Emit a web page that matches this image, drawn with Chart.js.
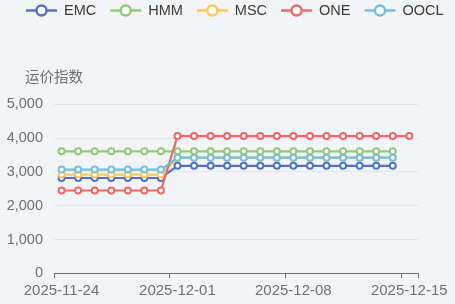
<!DOCTYPE html>
<html>
<head>
<meta charset="utf-8">
<script src="https://cdn.jsdelivr.net/npm/chart.js@4.4.0/dist/chart.umd.min.js"></script>
<style>
  html, body { margin: 0; padding: 0; background: #f3f4f6; }
</style>
</head>
<body>
<canvas id="chart" width="455" height="304"></canvas>
<script>
// data
const dates = ['2025-11-24', '2025-11-25', '2025-11-26', '2025-11-27', '2025-11-28', '2025-11-29', '2025-11-30',
               '2025-12-01', '2025-12-02', '2025-12-03', '2025-12-04', '2025-12-05', '2025-12-06', '2025-12-07',
               '2025-12-08', '2025-12-09', '2025-12-10', '2025-12-11', '2025-12-12', '2025-12-13', '2025-12-14',
               '2025-12-15'];
const seriesNames = ['EMC', 'HMM', 'MSC', 'ONE', 'OOCL'];
const emc  = [2820, 2820, 2820, 2820, 2820, 2820, 2820, 3180, 3180, 3180, 3180, 3180, 3180, 3180, 3180, 3180, 3180, 3180, 3180, 3180, 3180];
const hmm  = [3610, 3610, 3610, 3610, 3610, 3610, 3610, 3610, 3610, 3610, 3610, 3610, 3610, 3610, 3610, 3610, 3610, 3610, 3610, 3610, 3610];
const msc  = [2920, 2920, 2920, 2920, 2920, 2920, 2920, 3420, 3420, 3420, 3420, 3420, 3420, 3420, 3420, 3420, 3420, 3420, 3420, 3420, 3420];
const one  = [2450, 2450, 2450, 2450, 2450, 2450, 2450, 4060, 4060, 4060, 4060, 4060, 4060, 4060, 4060, 4060, 4060, 4060, 4060, 4060, 4060, 4060];
const oocl = [3070, 3070, 3070, 3070, 3070, 3070, 3070, 3420, 3420, 3420, 3420, 3420, 3420, 3420, 3420, 3420, 3420, 3420, 3420, 3420, 3420];
const xTickDates = ['2025-11-24', '2025-12-01', '2025-12-08', '2025-12-15'];
const xAxisEnd = '2025-12-16';
const yTicks = [0, 1000, 2000, 3000, 4000, 5000];
const yAxisName = '运价指数';
const sampleHour = 11;

const colors = ['#5470c6', '#91cc75', '#fac858', '#ee6666', '#73c0de'];
const FONT = '"Liberation Sans", Arial, "Noto Sans CJK SC", sans-serif';
const DAY = 86400000;

function toUTC(s) {
  const p = s.split('-').map(Number);
  return Date.UTC(p[0], p[1] - 1, p[2]);
}
const t0 = toUTC(dates[0]);
const dayOf = s => (toUTC(s) - t0) / DAY;
const fmt = v => new Date(t0 + v * DAY).toISOString().slice(0, 10);

const allSeries = [emc, hmm, msc, one, oocl];
const datasets = allSeries.map((vals, i) => ({
  label: seriesNames[i],
  data: vals.map((v, j) => ({ x: dayOf(dates[j]) + sampleHour / 24, y: v })),
  borderColor: colors[i],
  backgroundColor: colors[i],
  borderWidth: 2.2,
  pointRadius: 3,
  pointBorderWidth: 2,
  pointBackgroundColor: '#ffffff',
  pointBorderColor: colors[i],
  tension: 0,
  order: allSeries.length - 1 - i
}));

const bgPlugin = {
  id: 'bg',
  beforeDraw(chart) {
    const c = chart.ctx;
    c.save();
    c.fillStyle = '#f3f4f6';
    c.fillRect(0, 0, chart.width, chart.height);
    c.restore();
  }
};

const legendPlugin = {
  id: 'customLegend',
  afterDraw(chart) {
    const c = chart.ctx;
    c.save();
    c.font = '14.5px ' + FONT;
    c.textBaseline = 'middle';
    const iconW = 31, textGap = 7, itemGap = 14, y = 10.5;
    let x = 26;
    seriesNames.forEach((name, i) => {
      c.strokeStyle = colors[i];
      c.lineWidth = 2.4;
      c.beginPath();
      c.moveTo(x, y);
      c.lineTo(x + iconW, y);
      c.stroke();
      c.beginPath();
      c.arc(x + iconW / 2, y, 5, 0, Math.PI * 2);
      c.fillStyle = '#ffffff';
      c.fill();
      c.stroke();
      c.fillStyle = '#3a3a3a';
      c.textAlign = 'left';
      c.fillText(name, x + iconW + textGap, y);
      x += iconW + textGap + c.measureText(name).width + itemGap;
    });
    // axis name
    c.fillStyle = '#6e7079';
    c.textAlign = 'center';
    c.fillText(yAxisName, chart.chartArea.left, 78);
    c.restore();
  }
};

new Chart(document.getElementById('chart'), {
  type: 'line',
  data: { datasets },
  plugins: [bgPlugin, legendPlugin],
  options: {
    responsive: false,
    animation: false,
    devicePixelRatio: 1,
    layout: { padding: { top: 104.3, right: 36.7, left: 0, bottom: 0 } },
    plugins: {
      legend: { display: false },
      tooltip: { enabled: false }
    },
    scales: {
      x: {
        type: 'linear',
        min: 0,
        max: dayOf(xAxisEnd),
        afterBuildTicks(scale) {
          scale.ticks = xTickDates.concat([xAxisEnd]).map(d => ({ value: dayOf(d) }));
        },
        afterFit(scale) { scale.height = 30.7; },
        ticks: {
          autoSkip: false,
          maxRotation: 0,
          padding: 4,
          labelOffset: 7.5,
          color: '#6e7079',
          font: { family: FONT, size: 15 },
          callback: v => (xTickDates.includes(fmt(v)) ? fmt(v) : '')
        },
        grid: {
          drawOnChartArea: false,
          drawTicks: true,
          tickLength: 5,
          color: '#6e7079',
          lineWidth: 1
        },
        border: { display: true, color: '#6e7079', width: 1 }
      },
      y: {
        min: yTicks[0],
        max: yTicks[yTicks.length - 1],
        afterBuildTicks(scale) {
          scale.ticks = yTicks.map(v => ({ value: v }));
        },
        afterFit(scale) { scale.width = 54; },
        ticks: {
          padding: 11,
          color: '#6e7079',
          font: { family: FONT, size: 14.5 },
          callback: v => v.toLocaleString('en-US')
        },
        grid: { color: '#e0e6f1', drawTicks: false },
        border: { display: false }
      }
    }
  }
});
</script>
</body>
</html>
